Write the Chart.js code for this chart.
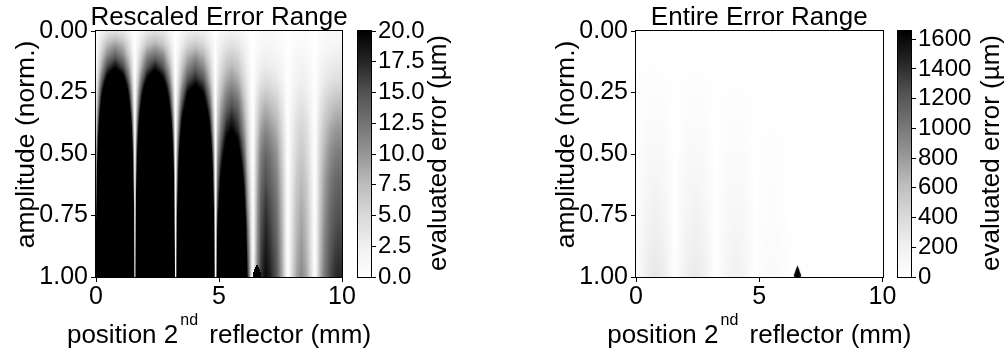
<!DOCTYPE html>
<html>
<head>
<meta charset="utf-8">
<title>Evaluated error maps</title>
<script src="https://cdn.jsdelivr.net/npm/chart.js@4.4.1/dist/chart.umd.min.js"></script>
<style>
  html, body { margin: 0; padding: 0; background: #fff; overflow: hidden; }
  #page { position: relative; width: 1004px; height: 351px; }
  #page canvas { position: absolute; top: 0; }
</style>
</head>
<body>
<div id="page">
  <canvas id="mapScaled" width="390" height="351" style="left:0px;width:390px;height:351px"></canvas>
  <canvas id="barScaled" width="110" height="351" style="left:350px;width:110px;height:351px"></canvas>
  <canvas id="mapFull" width="420" height="351" style="left:500px;width:420px;height:351px"></canvas>
  <canvas id="barFull" width="114" height="351" style="left:890px;width:114px;height:351px"></canvas>
</div>
<script>
// ---- data -------------------------------------------------------------
// grid nodes along the reflector position (mm)
const positions = [
  0, 0.08, 0.22, 0.45, 0.78, 1.1, 1.34, 1.5, 1.58,
  1.66, 1.83, 2.08, 2.405, 2.73, 2.98, 3.15, 3.23,
  3.31, 3.47, 3.72, 4.045, 4.37, 4.62, 4.78, 4.86,
  4.94, 5.08, 5.3, 5.52, 5.78, 6.02, 6.15, 6.27, 6.38,
  6.45, 6.55, 6.7, 6.9, 7.1, 7.35, 7.6, 7.72, 7.8,
  7.88, 8.0, 8.15, 8.35, 8.55, 8.7, 8.82, 8.9,
  8.98, 9.1, 9.3, 9.5, 9.7, 9.85, 10
];
// grid nodes along the normalised amplitude
const amplitudes = [0, 0.05, 0.1, 0.15, 0.2, 0.3, 0.4, 0.5, 0.6, 0.7, 0.8, 0.9, 1.0];
// evaluated error (µm), one row per amplitude, one entry per position
const errorRows = [
  [0.2, 0.8, 1.8, 3.2, 4, 3.3, 1.8, 0.6, 0,  0.6, 1.8, 3.2, 4, 3.2, 1.8, 0.6, 0,  0.5, 1.4, 2.4, 3, 2.4, 1.4, 0.5, 0,
   0.7, 1.2, 1.8, 2, 1.7, 1, 0.6, 0.2, 0,  0.3, 0.6, 0.9, 1, 0.9, 0.8, 0.4, 0.2, 0,  0.1, 0.3, 0.4, 0.5, 0.4, 0.3, 0.1, 0,
   0.2, 0.5, 0.7, 0.9, 1, 1, 1],
  [0.5, 1.8, 4.1, 7.2, 9, 7.4, 4.1, 1.4, 0,  1.3, 3.6, 6.5, 8, 6.5, 3.6, 1.3, 0,  1, 2.7, 4.9, 6, 4.9, 2.7, 1, 0,
   1.4, 2.4, 3.5, 4, 3.4, 2, 1.2, 0.5, 0,  0.4, 0.8, 1.3, 1.5, 1.4, 1.1, 0.6, 0.2, 0,  0.2, 0.5, 0.8, 1, 0.8, 0.5, 0.2, 0,
   0.3, 0.7, 1.1, 1.3, 1.5, 1.5, 1.5],
  [0.8, 2.8, 6.3, 11, 14, 11, 6.4, 2.2, 0,  2.1, 5.9, 11, 13, 11, 5.9, 2.1, 0,  1.6, 4.5, 8.1, 10, 8.1, 4.5, 1.6, 0,
   2.1, 3.6, 5.3, 6, 5.1, 3, 1.8, 0.7, 0,  0.6, 1.2, 1.9, 2.2, 2, 1.7, 0.9, 0.3, 0,  0.3, 0.8, 1.2, 1.5, 1.2, 0.8, 0.3, 0,
   0.5, 1.1, 1.8, 2.2, 2.4, 2.5, 2.5],
  [1.2, 4, 9, 16, 20, 16, 9.2, 3.2, 0,  3, 8.6, 15, 19, 15, 8.6, 3, 0,  2.2, 6.3, 11, 14, 11, 6.3, 2.2, 0,
   2.8, 4.8, 7, 8, 6.8, 4, 2.4, 1, 0,  0.8, 1.8, 2.7, 3.2, 2.9, 2.4, 1.3, 0.5, 0,  0.4, 1, 1.6, 2, 1.6, 1, 0.4, 0,
   0.7, 1.6, 2.5, 3, 3.4, 3.5, 3.5],
  [1.7, 5.6, 13, 22, 28, 23, 13, 4.5, 0,  4.2, 12, 21, 26, 21, 12, 4.2, 0,  2.9, 8.1, 15, 18, 15, 8.1, 2.9, 0,
   3.5, 6, 8.8, 10, 8.5, 5, 3, 1.2, 0,  1.1, 2.5, 3.8, 4.5, 4.1, 3.4, 1.8, 0.7, 0,  0.6, 1.3, 2.1, 2.5, 2.1, 1.3, 0.6, 0,
   0.9, 2, 3.2, 3.9, 4.4, 4.5, 4.5],
  [2.9, 9.6, 22, 38, 48, 39, 22, 7.7, 0,  7.2, 20, 36, 45, 36, 20, 7.2, 0,  4.8, 14, 24, 30, 24, 14, 4.8, 0,
   5.3, 9, 13, 15, 13, 7.5, 4.5, 1.8, 0,  2, 4.4, 6.8, 8, 7.2, 6, 3.2, 1.2, 0,  0.9, 2.1, 3.3, 4, 3.3, 2.1, 0.9, 0,
   1.5, 3.4, 5.3, 6.5, 7.3, 7.5, 7.5],
  [4.5, 15, 34, 60, 75, 62, 35, 12, 0,  11, 32, 57, 70, 57, 32, 11, 0,  7.4, 21, 37, 46, 37, 21, 7.4, 0,
   7, 12, 18, 20, 17, 10, 6, 2.4, 0,  2.8, 6, 9.4, 11, 9.9, 8.3, 4.4, 1.7, 0,  1.2, 2.9, 4.5, 5.5, 4.5, 2.9, 1.2, 0,
   2, 4.5, 7, 8.7, 9.7, 10, 10],
  [6.3, 21, 47, 84, 105, 86, 48, 17, 0,  16, 44, 79, 98, 79, 44, 16, 0,  11, 30, 53, 66, 53, 30, 11, 0,
   9.5, 16, 24, 27, 23, 13.5, 7, 3.2, 0,  3.4, 7.4, 11.5, 13.5, 12.2, 10.1, 5.4, 2, 0,  1.4, 3.4, 5.3, 6.5, 5.3, 3.4, 1.4, 0,
   2.4, 5.4, 8.4, 10.4, 11.6, 12, 12],
  [8.4, 28, 63, 112, 140, 115, 64, 22, 0,  21, 59, 105, 130, 105, 59, 21, 0,  14, 40, 71, 88, 71, 40, 14, 0,
   12, 21, 31, 35, 30, 17.5, 9, 4.2, 0,  3.8, 8.3, 12.8, 15, 13.5, 11.3, 6, 2.3, 0,  1.7, 3.9, 6.2, 7.5, 6.2, 3.9, 1.7, 0,
   2.7, 6.1, 9.5, 11.7, 13.1, 13.5, 13.5],
  [10.5, 35, 79, 140, 175, 144, 81, 28, 0,  26, 72, 130, 160, 130, 72, 26, 0,  18, 50, 89, 110, 89, 50, 18, 0,
   15, 26, 39, 44, 37, 22, 11, 5.3, 0,  4.1, 9.1, 14, 16.5, 14.9, 12.4, 6.6, 2.5, 0,  1.9, 4.4, 7, 8.5, 7, 4.4, 1.9, 0,
   2.9, 6.5, 10.2, 12.6, 14.1, 14.5, 14.5],
  [13, 43, 97, 172, 215, 176, 99, 34, 0,  31, 88, 158, 195, 158, 88, 31, 0,  22, 61, 109, 135, 109, 61, 22, 0,
   19, 32, 48, 54, 46, 27, 14, 6.5, 0,  4.4, 9.6, 14.9, 17.5, 15.8, 13.1, 7, 2.6, 0,  2, 4.8, 7.6, 9.3, 7.6, 4.8, 2, 0,
   3.1, 7, 10.9, 13.5, 15, 15.5, 15.5],
  [15, 51, 115, 204, 255, 209, 117, 41, 0,  37, 104, 186, 230, 186, 104, 37, 0,  26, 72, 130, 160, 130, 72, 26, 0,
   22, 38, 56, 64, 54, 32, 16, 7.7, 0,  4.6, 10.2, 15.7, 18.5, 16.7, 13.9, 7.4, 2.8, 0,  2.2, 5.2, 8.2, 10, 8.2, 5.2, 2.2, 0,
   3.3, 7.4, 11.6, 14.4, 16, 16.5, 16.5],
  [17, 58, 131, 232, 290, 238, 133, 46, 0,  42, 117, 211, 260, 211, 117, 42, 0,  29, 81, 146, 180, 146, 81, 29, 0,
   26, 45, 66, 75, 64, 38, 19, 8, 0,  4.9, 10.7, 16.6, 19.5, 17.6, 14.6, 7.8, 2.9, 0,  2.4, 5.7, 9, 11, 9, 5.7, 2.4, 0,
   3.5, 7.9, 12.3, 15.2, 17, 17.5, 17.5]
];
// finer patch around the error spike near the full-amplitude edge
const spikePositions = [6.38, 6.42, 6.46, 6.5, 6.55, 6.6, 6.64, 6.68, 6.72];
const spikeAmplitudes = [0.95, 0.958, 0.968, 0.98, 0.99, 1.0];
const spikeRows = [
  [0, 2.7, 5.4, 7.6, 10.5, 12.4, 14.0, 15.5, 16.3],
  [0, 2.7, 5.4, 7.7, 1500, 12.5, 14.1, 15.6, 16.4],
  [0, 2.7, 5.5, 1560, 1640, 1580, 14.1, 15.6, 16.4],
  [0, 2.8, 1500, 1620, 1650, 1630, 1520, 15.7, 16.5],
  [0, 1400, 1560, 1630, 1652, 1635, 1570, 1420, 16.6],
  [0, 1480, 1575, 1638, 1655, 1640, 1580, 1490, 16.7]
];
// axis ticks
const positionTicks = [0, 5, 10];
const amplitudeTicks = [0, 0.25, 0.5, 0.75, 1.0];
const rescaledTicks = [0, 2.5, 5, 7.5, 10, 12.5, 15, 17.5, 20];
const entireTicks = [0, 200, 400, 600, 800, 1000, 1200, 1400, 1600];
const rescaledLimit = 20;
const entireLimit = Math.max(...errorRows.flat(), ...spikeRows.flat());

// ---- colour map (Greys) -----------------------------------------------
const GREYS = [[255,255,255],[240,240,240],[217,217,217],[189,189,189],[150,150,150],
               [115,115,115],[82,82,82],[37,37,37],[0,0,0]];
function greyLevel(t) {
  t = Math.min(1, Math.max(0, t)) * 8;
  const i = Math.min(7, Math.floor(t)), f = t - i;
  const a = GREYS[i], b = GREYS[i + 1];
  return [a[0] + (b[0] - a[0]) * f, a[1] + (b[1] - a[1]) * f, a[2] + (b[2] - a[2]) * f];
}

// ---- field sampling ----------------------------------------------------
function bracket(nodes, v) {
  const n = nodes.length;
  if (v <= nodes[0]) return [0, 0];
  if (v >= nodes[n - 1]) return [n - 2, 1];
  let i = 0;
  while (nodes[i + 1] < v) i++;
  return [i, (v - nodes[i]) / (nodes[i + 1] - nodes[i])];
}
function sampleGrid(xs, ys, rows, x, y) {
  const [i, tx] = bracket(xs, x);
  const [j, ty] = bracket(ys, y);
  const r0 = rows[j], r1 = rows[j + 1];
  const top = r0[i] + (r0[i + 1] - r0[i]) * tx;
  const bot = r1[i] + (r1[i + 1] - r1[i]) * tx;
  return top + (bot - top) * ty;
}
function errorAt(x, a) {
  if (x >= spikePositions[0] && x <= spikePositions[spikePositions.length - 1] && a >= spikeAmplitudes[0]) {
    return sampleGrid(spikePositions, spikeAmplitudes, spikeRows, x, a);
  }
  return sampleGrid(positions, amplitudes, errorRows, x, a);
}

// ---- shared styling ----------------------------------------------------
const FONT = '"Liberation Sans", Arial, sans-serif';
Chart.defaults.font.family = FONT;
Chart.defaults.color = '#000';
const TICK_SIZE = 25;
const BAR_TICK_SIZE = 24;

function fixedTicks(values) {
  return (scale) => { scale.ticks = values.map(v => ({ value: v })); };
}

// ---- heat map panel ----------------------------------------------------
function fieldPlugin(limit, title) {
  return {
    id: 'errorField',
    beforeDatasetsDraw(chart) {
      const { ctx, chartArea: ca, scales } = chart;
      const x0 = Math.round(ca.left), y0 = Math.round(ca.top);
      const w = Math.round(ca.right) - x0, h = Math.round(ca.bottom) - y0;
      const img = ctx.createImageData(w, h);
      const xv = [], yv = [];
      for (let i = 0; i < w; i++) xv.push(scales.x.getValueForPixel(x0 + i + 0.5));
      for (let j = 0; j < h; j++) yv.push(scales.y.getValueForPixel(y0 + j + 0.5));
      for (let j = 0; j < h; j++) {
        for (let i = 0; i < w; i++) {
          const c = greyLevel(errorAt(xv[i], yv[j]) / limit);
          const k = (j * w + i) * 4;
          img.data[k] = c[0]; img.data[k + 1] = c[1]; img.data[k + 2] = c[2]; img.data[k + 3] = 255;
        }
      }
      ctx.putImageData(img, x0, y0);
    },
    afterDraw(chart) {
      const { ctx, chartArea: ca } = chart;
      const cx = (ca.left + ca.right) / 2;
      ctx.save();
      ctx.strokeStyle = '#000';
      ctx.lineWidth = 1;
      ctx.strokeRect(Math.round(ca.left) - 0.5, Math.round(ca.top) - 0.5,
                     Math.round(ca.right - ca.left) + 1, Math.round(ca.bottom - ca.top) + 1);
      ctx.fillStyle = '#000';
      // panel title
      ctx.font = '26px ' + FONT;
      ctx.textAlign = 'center';
      ctx.textBaseline = 'alphabetic';
      ctx.fillText(title, cx, ca.top - 6);
      // x axis title with superscript ordinal
      const mainFont = '26px ' + FONT, supFont = '16px ' + FONT;
      const parts = [
        { t: 'position 2', f: mainFont, dy: 0, gap: 0 },
        { t: 'nd', f: supFont, dy: -18, gap: 2 },
        { t: ' reflector (mm)', f: mainFont, dy: 0, gap: 4 }
      ];
      let total = 0;
      parts.forEach(p => { ctx.font = p.f; p.w = ctx.measureText(p.t).width; total += p.w + p.gap; });
      let px = cx - total / 2;
      ctx.textAlign = 'left';
      const baseY = ca.bottom + 66;
      parts.forEach(p => {
        ctx.font = p.f;
        px += p.gap;
        ctx.fillText(p.t, px, baseY + p.dy);
        px += p.w;
      });
      // y axis title
      ctx.font = '26.5px ' + FONT;
      ctx.textAlign = 'center';
      ctx.textBaseline = 'alphabetic';
      ctx.translate(ca.left - 62, ca.top + 113.5);
      ctx.rotate(-Math.PI / 2);
      ctx.fillText('amplitude (norm.)', 0, 0);
      ctx.restore();
    }
  };
}

function makeMap(id, limit, title, yAxisWidth, rightPad) {
  const nodes = [];
  amplitudes.forEach((a, j) => positions.forEach((x, i) => nodes.push({ x, y: a, v: errorRows[j][i] })));
  return new Chart(document.getElementById(id), {
    type: 'scatter',
    data: { datasets: [{ label: title, data: nodes, pointRadius: 0, pointHoverRadius: 0, showLine: false }] },
    options: {
      responsive: false,
      animation: false,
      events: [],
      layout: { padding: { left: 0, right: rightPad, top: 31, bottom: 0 } },
      plugins: { legend: { display: false }, tooltip: { enabled: false }, title: { display: false } },
      scales: {
        x: {
          type: 'linear', position: 'bottom', min: 0, max: 10,
          afterBuildTicks: fixedTicks(positionTicks),
          afterFit: (s) => { s.height = 74; },
          ticks: { font: { size: TICK_SIZE }, color: '#000', padding: 0, maxRotation: 0, autoSkip: false,
                   callback: (v) => String(v) },
          grid: { drawOnChartArea: false, drawTicks: true, tickLength: 5, color: '#000' },
          border: { display: false }
        },
        y: {
          type: 'linear', position: 'left', min: 0, max: 1, reverse: true,
          afterBuildTicks: fixedTicks(amplitudeTicks),
          afterFit: (s) => { s.width = yAxisWidth; },
          ticks: { font: { size: TICK_SIZE }, color: '#000', padding: 3, autoSkip: false,
                   callback: (v) => Number(v).toFixed(2) },
          grid: { drawOnChartArea: false, drawTicks: true, tickLength: 5, color: '#000' },
          border: { display: false }
        }
      }
    },
    plugins: [fieldPlugin(limit, title)]
  });
}

// ---- colour bar ----------------------------------------------------------
function barPlugin(limit, labelOffset) {
  return {
    id: 'colourBar',
    beforeDatasetsDraw(chart) {
      const { ctx, chartArea: ca, scales: { y } } = chart;
      const x0 = Math.round(ca.left), w = Math.round(ca.right) - x0;
      for (let py = Math.round(ca.top); py < Math.round(ca.bottom); py++) {
        const c = greyLevel(y.getValueForPixel(py + 0.5) / limit).map(Math.round);
        ctx.fillStyle = 'rgb(' + c.join(',') + ')';
        ctx.fillRect(x0, py, w, 1);
      }
    },
    afterDraw(chart) {
      const { ctx, chartArea: ca } = chart;
      ctx.save();
      ctx.strokeStyle = '#000';
      ctx.lineWidth = 1;
      ctx.strokeRect(Math.round(ca.left) - 0.5, Math.round(ca.top) - 0.5,
                     Math.round(ca.right - ca.left) + 1, Math.round(ca.bottom - ca.top) + 1);
      ctx.fillStyle = '#000';
      ctx.font = '26px ' + FONT;
      ctx.textAlign = 'center';
      ctx.textBaseline = 'alphabetic';
      ctx.translate(ca.right + labelOffset, 153);
      ctx.rotate(-Math.PI / 2);
      ctx.fillText('evaluated error (µm)', 0, 0);
      ctx.restore();
    }
  };
}

function makeBar(id, limit, ticks, digits, leftPad, axisWidth, labelOffset) {
  return new Chart(document.getElementById(id), {
    type: 'scatter',
    data: { datasets: [] },
    options: {
      responsive: false,
      animation: false,
      events: [],
      layout: { padding: { left: leftPad, right: 0, top: 31, bottom: 74 } },
      plugins: { legend: { display: false }, tooltip: { enabled: false } },
      scales: {
        x: { display: false, min: 0, max: 1 },
        y: {
          type: 'linear', position: 'right', min: 0, max: limit,
          afterBuildTicks: fixedTicks(ticks),
          afterFit: (s) => { s.width = axisWidth; },
          ticks: { font: { size: BAR_TICK_SIZE }, color: '#000', padding: 2, autoSkip: false,
                   callback: (v) => Number(v).toFixed(digits) },
          grid: { drawOnChartArea: false, drawTicks: true, tickLength: 5, color: '#000' },
          border: { display: false }
        }
      }
    },
    plugins: [barPlugin(limit, labelOffset)]
  });
}

makeMap('mapScaled', rescaledLimit, 'Rescaled Error Range', 96, 48);
makeBar('barScaled', rescaledLimit, rescaledTicks, 1, 8, 89, 75);
makeMap('mapFull', entireLimit, 'Entire Error Range', 136, 37.5);
makeBar('barFull', entireLimit, entireTicks, 0, 8, 93, 88);
</script>
</body>
</html>
